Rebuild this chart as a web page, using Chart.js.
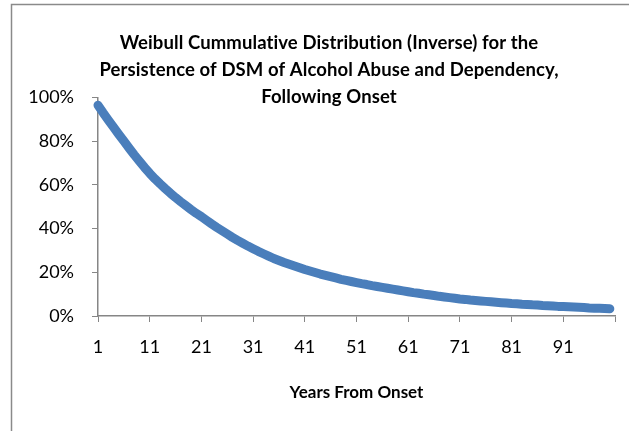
<!DOCTYPE html>
<html lang="en">
<head>
<meta charset="UTF-8">
<title>Weibull Cummulative Distribution (Inverse)</title>
<script src="https://cdn.jsdelivr.net/npm/chart.js@4.4.0/dist/chart.umd.min.js"></script>
<style>
  html, body { margin: 0; padding: 0; background: #fff; }
</style>
</head>
<body>
<canvas id="chart" width="629" height="431"></canvas>

<script>
    // years from onset (categories)
    const years = Array.from({ length: 100 }, (_, i) => i + 1);

    // share still persistent, %
    const persistence = [
        96.5, 93.0, 89.7, 86.4, 83.2, 80.1, 76.9, 73.8, 70.9, 68.0,
        65.3, 62.8, 60.5, 58.3, 56.2, 54.2, 52.3, 50.5, 48.7, 47.0,
        45.5, 43.8, 42.1, 40.5, 39.0, 37.5, 36.0, 34.6, 33.3, 32.0,
        30.8, 29.6, 28.5, 27.4, 26.3, 25.4, 24.5, 23.7, 22.9, 22.1,
        21.3, 20.6, 19.9, 19.2, 18.6, 18.0, 17.4, 16.8, 16.3, 15.8,
        15.3, 14.8, 14.4, 13.9, 13.5, 13.1, 12.7, 12.3, 11.9, 11.5,
        11.1, 10.7, 10.4, 10.0, 9.7, 9.4, 9.0, 8.7, 8.4, 8.1,
        7.8, 7.6, 7.3, 7.1, 6.9, 6.7, 6.5, 6.3, 6.1, 5.9,
        5.7, 5.6, 5.4, 5.3, 5.1, 5.0, 4.8, 4.7, 4.6, 4.4,
        4.3, 4.2, 4.1, 4.0, 3.9, 3.7, 3.6, 3.5, 3.4, 3.3
    ];

    const xTicks = [1, 11, 21, 31, 41, 51, 61, 71, 81, 91, 101];
    const yTicks = [0, 20, 40, 60, 80, 100];

    const titleLines = [
        'Weibull Cummulative Distribution (Inverse) for the',
        'Persistence of DSM of Alcohol Abuse and Dependency,',
        'Following Onset'
    ];
    const xTitle = 'Years From Onset';

    const FONT = 'Lato, "Open Sans", sans-serif';
    const AXIS_GRAY = '#868686';

    // excel style frame + title, plot area overlaps the title a bit so draw it by hand
    const excelFrame = {
        id: 'excelFrame',
        beforeDraw(chart) {
            const ctx = chart.ctx;
            ctx.save();
            ctx.strokeStyle = '#8a8a8a';
            ctx.lineWidth = 1.5;
            ctx.strokeRect(11.5, 4.5, 700, 500);
            ctx.restore();
        },
        afterDraw(chart) {
            const ctx = chart.ctx;
            ctx.save();
            ctx.font = 'bold 18.5px ' + FONT;
            ctx.letterSpacing = '0.1px';   // also stops the "ti" ligature
            ctx.fillStyle = '#000';
            ctx.textAlign = 'center';
            ctx.textBaseline = 'middle';
            titleLines.forEach((t, i) => ctx.fillText(t, 329, 43 + i * 27));
            ctx.restore();
        }
    };

    const points = years.map((y, i) => ({ x: y, y: persistence[i] }));

    const ctx = document.getElementById('chart').getContext('2d');
    const myChart = new Chart(ctx, {
        type: 'line',
        data: {
            datasets: [{
                label: 'Persistence',
                data: points,
                borderColor: '#4A7EBB',
                borderWidth: 9,
                borderCapStyle: 'round',
                borderJoinStyle: 'round',
                pointRadius: 0,
                tension: 0,
                clip: false
            }]
        },
        plugins: [excelFrame],
        options: {
            responsive: false,
            animation: false,
            devicePixelRatio: 1,
            layout: { padding: { left: 11, right: 11, top: 97.5, bottom: 0 } },
            plugins: {
                legend: { display: false },
                title: { display: false },
                tooltip: { enabled: false }
            },
            scales: {
                x: {
                    type: 'linear',
                    min: 1,
                    max: 101,
                    afterBuildTicks: s => { s.ticks = xTicks.map(v => ({ value: v })); },
                    afterFit: s => { s.height = 115; },
                    grid: { drawOnChartArea: false, drawTicks: true, tickLength: 6, color: AXIS_GRAY },
                    border: { display: true, color: AXIS_GRAY, width: 1.5 },
                    ticks: {
                        autoSkip: false,
                        maxRotation: 0,
                        padding: 14,
                        color: '#000',
                        font: { family: FONT, size: 18 },
                        callback: v => (v === 101 ? '' : String(v))
                    },
                    title: {
                        display: true,
                        text: xTitle,
                        color: '#000',
                        font: { family: FONT, size: 17, weight: 'bold' },
                        padding: { top: 0, bottom: 28 }
                    }
                },
                y: {
                    min: 0,
                    max: 100,
                    afterBuildTicks: s => { s.ticks = yTicks.map(v => ({ value: v })); },
                    afterFit: s => { s.width = 87; },
                    grid: { drawOnChartArea: false, drawTicks: true, tickLength: 6, color: AXIS_GRAY },
                    border: { display: true, color: AXIS_GRAY, width: 1.5 },
                    ticks: {
                        padding: 18,
                        color: '#000',
                        font: { family: FONT, size: 18 },
                        callback: v => v + '%'
                    }
                }
            }
        }
    });
</script>
</body>
</html>
